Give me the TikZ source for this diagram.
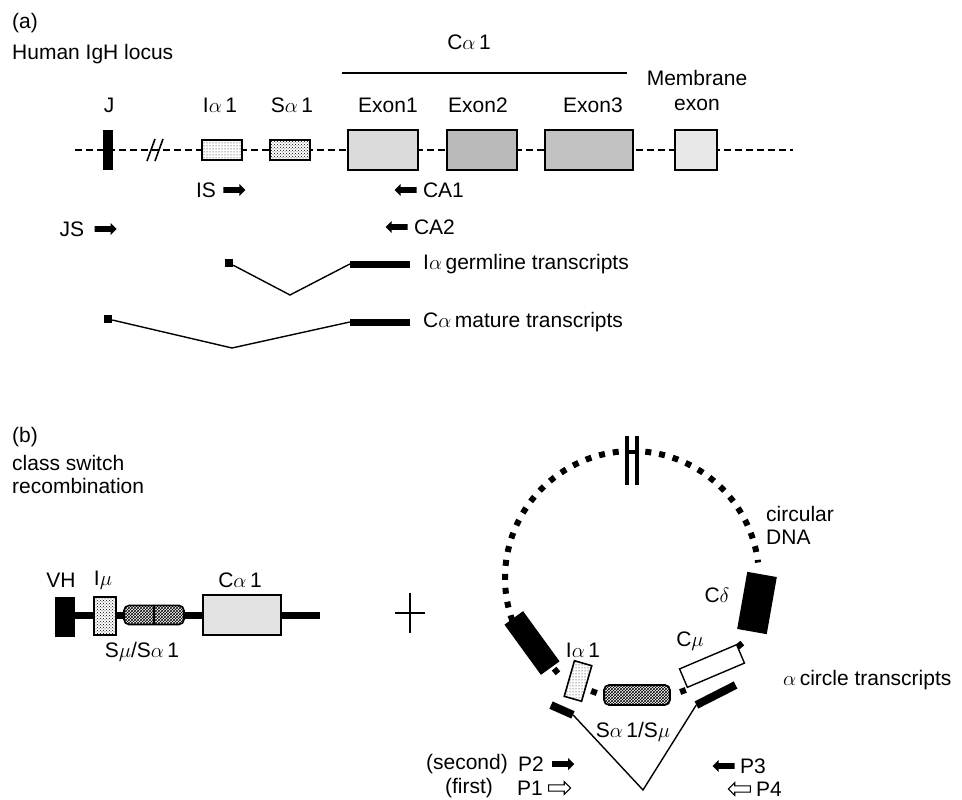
\documentclass[tikz,border=0pt]{standalone}
\usepackage{fontspec}
\setmainfont{Liberation Sans}
\usetikzlibrary{
  arrows.meta,
  positioning,
  patterns,
  shapes.arrows
}
\tikzset{
  lbl/.style={font=\fontsize{21}{23}\selectfont, inner sep=0pt},
  exon/.style={draw, line width=2.4pt, minimum height=40pt, inner sep=0pt},
  smallbox/.style={draw, line width=1.6pt, minimum width=40pt, minimum height=20pt,
                   inner sep=0pt, preaction={fill=white}},
  blk/.style={fill=black, inner sep=0pt},
  bead/.style={fill=black, minimum size=6pt, inner sep=0pt},
  switchbox/.style={draw, line width=1.6pt, rounded corners=5pt, inner sep=0pt,
                    preaction={fill=white}, pattern=crosshatch},
  fwd/.style={single arrow, fill=black, inner xsep=0pt, inner ysep=2.6pt,
              minimum height=22pt, single arrow head extend=3.2pt},
  rev/.style={fwd, shape border rotate=180},
  hollow/.style={fill=white, draw, line width=1.1pt},
  locusline/.style={line width=1.6pt, dash pattern=on 7pt off 4pt},
  splice/.style={line width=1.4pt},
  ringline/.style={line width=6pt, dash pattern=on 6pt off 8pt}
}

\begin{document}
\begin{tikzpicture}[x=1pt, y=1pt]
\useasboundingbox (0,0) rectangle (962,-800);

% (a) human IgH locus
\node[lbl, anchor=west] (tagA)  at (12,-23) {(a)};
\node[lbl, anchor=west] (locus) at (12,-54) {Human IgH locus};
\node[lbl] (calpha) at (469,-42) {C$\alpha$\,1};
\coordinate (calL) at (342,-73);
\coordinate (calR) at (627,-73);
\draw[line width=1.4pt] (calL) -- (calR);

% backbone
\coordinate (rowL) at (75,-150);
\coordinate (rowR) at (793,-150);
\draw[locusline] (rowL) -- (rowR);
\draw[line width=1.6pt] (147,-161) -- (155,-139) (155,-161) -- (163,-139);

% segments
\node[blk, minimum width=10pt, minimum height=40pt] (J) at (108,-150) {};
\node[smallbox, pattern=dots]           (Ia) at (222,-150) {};
\node[smallbox, pattern=crosshatch dots] (Sa) at (290,-150) {};
\node[exon, minimum width=70pt, fill=black!14] (ex1) at (383,-150) {};
\node[exon, minimum width=70pt, fill=black!27] (ex2) at (482,-150) {};
\node[exon, minimum width=88pt, fill=black!24] (ex3) at (589,-150) {};
\node[exon, minimum width=42pt, fill=black!9]  (mex) at (696,-150) {};

% segment labels
\node[lbl] (Jlbl)   at (109,-105) {J};
\node[lbl] (Ialbl)  at (220,-105) {I$\alpha$\,1};
\node[lbl] (Salbl)  at (292,-105) {S$\alpha$\,1};
\node[lbl] (ex1lbl) at (388,-105) {Exon1};
\node[lbl] (ex2lbl) at (478,-105) {Exon2};
\node[lbl] (ex3lbl) at (593,-105) {Exon3};
\node[lbl] (memlbl) at (697,-78)  {Membrane};
\node[lbl] (mexlbl) at (697,-105) {exon};

% primers
\node[lbl] (IS) at (206,-190) {IS};
\node[fwd, right=7pt of IS] (ISarr) {};
\node[rev] (CA1arr) at (407,-190) {};
\node[lbl, right=6pt of CA1arr] (CA1) {CA1};
\node[rev] (CA2arr) at (398,-227) {};
\node[lbl, right=6pt of CA2arr] (CA2) {CA2};
\node[lbl] (JS) at (72,-229) {JS};
\node[fwd, right=10pt of JS] (JSarr) {};

% transcripts
\node[blk, minimum size=8pt] (gsq) at (229,-263) {};
\coordinate (gdip) at (290,-295);
\node[blk, minimum width=60pt, minimum height=7pt] (gbar) at (380,-264) {};
\draw[splice] (gsq) -- (gdip) -- (gbar.west);
\node[lbl, anchor=west] (glbl) at (423,-264) {I$\alpha$\,germline transcripts};

\node[blk, minimum size=8pt] (msq) at (108,-319) {};
\coordinate (mdip) at (232,-348);
\node[blk, minimum width=60pt, minimum height=7pt] (mbar) at (380,-322) {};
\draw[splice] (msq) -- (mdip) -- (mbar.west);
\node[lbl, anchor=west] (mlbl) at (423,-322) {C$\alpha$\,mature transcripts};

% (b) class switch recombination
\node[lbl, anchor=west] (tagB) at (12,-437) {(b)};
\node[lbl, anchor=west, align=left] (csr) at (12,-474) {class switch\\recombination};

% switched locus
\coordinate (spL) at (65,-615);
\coordinate (spR) at (320,-615);
\draw[line width=7pt] (spL) -- (spR);
\node[blk, minimum width=20pt, minimum height=40pt] (VH) at (65,-617) {};
\node[smallbox, minimum width=22pt, minimum height=38pt, pattern=crosshatch dots] (Imu) at (105,-616) {};
\node[switchbox, minimum width=60pt, minimum height=19pt] (Smu) at (154,-615) {};
\draw[line width=1.2pt] (Smu.north) -- (Smu.south);
\node[exon, minimum width=78pt, fill=black!11] (Ca) at (242,-615) {};
\node[lbl] (VHlbl)  at (61,-580)  {VH};
\node[lbl] (Imulbl) at (103,-580) {I$\mu$};
\node[lbl] (Calbl)  at (240,-580) {C$\alpha$\,1};
\node[lbl] (Smulbl) at (142,-652) {S$\mu$/S$\alpha$\,1};

% plus
\draw[line width=2pt] (395,-613) -- (425,-613) (410,-593) -- (410,-633);

% circular DNA
\coordinate (ring) at (632,-578);
\draw[ringline] ([shift={(96:127)}]ring) arc[start angle=96, end angle=203, radius=127];
\draw[ringline] ([shift={(84:127)}]ring) arc[start angle=84, end angle=7, radius=127];
\draw[line width=4pt] (627,-436) -- (627,-485) (637,-436) -- (637,-485)
                      (627,-452) -- (637,-452);

\node[blk, minimum width=62pt, minimum height=23pt, rotate=-54] (Cx) at (532,-643) {};
\node[bead, rotate=-50] (b1) at (556,-671) {};
\node[smallbox, minimum width=37pt, minimum height=18pt, rotate=74, pattern=dots] (Iac) at (578,-681) {};
\node[bead, rotate=-20] (b2) at (594,-692) {};
\node[switchbox, minimum width=66pt, minimum height=20pt] (Sac) at (637,-695) {};
\node[bead, rotate=20] (b3) at (683,-691) {};
\node[draw, fill=white, line width=1.4pt, minimum width=62pt, minimum height=20pt,
      inner sep=0pt, rotate=23] (Cmu) at (712,-666) {};
\node[bead, rotate=40] (b4) at (740,-645) {};
\node[blk, minimum width=58pt, minimum height=30pt, rotate=80] (Cdel) at (757,-603) {};

\node[lbl] (Iaclbl)  at (583,-650) {I$\alpha$\,1};
\node[lbl] (Cmulbl)  at (690,-641) {C$\mu$};
\node[lbl] (Cdellbl) at (717,-595) {C$\delta$};
\node[lbl] (Saclbl)  at (633,-732) {S$\alpha$\,1/S$\mu$};
\node[lbl, anchor=west, align=left] (ringlbl) at (766,-525) {circular\\DNA};

% circle transcripts
\node[blk, minimum width=24pt, minimum height=8pt, rotate=-24] (tl) at (562,-710) {};
\node[blk, minimum width=44pt, minimum height=8pt, rotate=27]  (tr) at (716,-695) {};
\coordinate (vb) at (643,-790);
\draw[splice] (tl.east) -- (vb) -- (tr.west);
\node[lbl, anchor=west] (circlbl) at (783,-680) {$\alpha$\,circle transcripts};

% PCR primers
\node[lbl] (second) at (467,-764) {(second)};
\node[lbl] (P2) at (531,-764) {P2};
\node[fwd, right=8pt of P2] (P2arr) {};
\node[lbl] (first) at (469,-788) {(first)};
\node[lbl] (P1) at (530,-788) {P1};
\node[fwd, hollow, right=5pt of P1] (P1arr) {};
\node[rev] (P3arr) at (725,-766) {};
\node[lbl, right=5pt of P3arr] (P3) {P3};
\node[rev, hollow] (P4arr) at (741,-789) {};
\node[lbl, right=5pt of P4arr] (P4) {P4};

\end{tikzpicture}
\end{document}
